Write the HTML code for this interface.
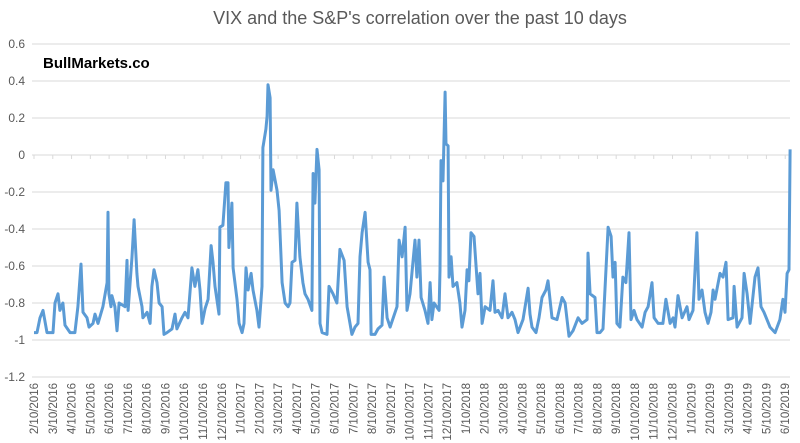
<!DOCTYPE html>
<html><head><meta charset="utf-8"><style>
body{margin:0;background:#fff}
svg{display:block;font-family:"Liberation Sans",sans-serif}
</style></head><body>
<svg id="chart" width="800" height="443" viewBox="0 0 800 443">
<text x="420" y="24" text-anchor="middle" font-size="18" fill="#595959">VIX and the S&amp;P's correlation over the past 10 days</text>
<g id="grid"></g>
<g id="yticks"></g>
<g id="xticks"></g>
<path id="line" fill="none" stroke="#5b9bd5" stroke-width="3" stroke-linejoin="round"></path>
<text x="43" y="68" font-size="15" font-weight="bold" fill="#000">BullMarkets.co</text>
</svg>
<script>
const yTicks=[0.6,0.4,0.2,0,-0.2,-0.4,-0.6,-0.8,-1,-1.2];
const yTickLabels=["0.6","0.4","0.2","0","-0.2","-0.4","-0.6","-0.8","-1","-1.2"];
const xTickLabels=["2/10/2016","3/10/2016","4/10/2016","5/10/2016","6/10/2016","7/10/2016","8/10/2016","9/10/2016","10/10/2016","11/10/2016","12/10/2016","1/10/2017","2/10/2017","3/10/2017","4/10/2017","5/10/2017","6/10/2017","7/10/2017","8/10/2017","9/10/2017","10/10/2017","11/10/2017","12/10/2017","1/10/2018","2/10/2018","3/10/2018","4/10/2018","5/10/2018","6/10/2018","7/10/2018","8/10/2018","9/10/2018","10/10/2018","11/10/2018","12/10/2018","1/10/2019","2/10/2019","3/10/2019","4/10/2019","5/10/2019","6/10/2019"];
// months elapsed since 2/10/2016
const months=[0,0.16,0.32,0.48,0.69,1.01,1.12,1.28,1.38,1.54,1.65,1.92,2.18,2.34,2.5,2.61,2.82,2.93,3.14,3.25,3.41,3.67,3.89,3.94,3.99,4.1,4.15,4.31,4.42,4.53,4.85,4.95,5.01,5.22,5.33,5.48,5.54,5.75,5.8,6.02,6.18,6.28,6.39,6.55,6.66,6.82,6.92,7.08,7.35,7.51,7.61,7.88,8.04,8.2,8.41,8.57,8.73,8.84,8.95,9.11,9.27,9.43,9.53,9.64,9.85,9.9,10.06,10.22,10.33,10.38,10.54,10.6,10.81,10.92,11.08,11.18,11.29,11.4,11.56,11.66,11.87,11.98,12.14,12.19,12.35,12.41,12.46,12.57,12.62,12.73,12.94,13.05,13.21,13.37,13.53,13.63,13.74,13.9,14,14.16,14.32,14.43,14.59,14.8,14.86,14.96,15.07,15.18,15.23,15.34,15.6,15.71,15.92,16.13,16.29,16.51,16.67,16.93,17.09,17.25,17.36,17.47,17.63,17.79,17.89,17.95,18.16,18.32,18.53,18.64,18.8,18.96,19.33,19.44,19.6,19.76,19.86,20.02,20.29,20.39,20.5,20.61,20.82,20.98,21.09,21.19,21.3,21.57,21.62,21.67,21.78,21.89,21.94,22.05,22.1,22.21,22.31,22.52,22.68,22.79,22.95,23.06,23.16,23.27,23.43,23.64,23.75,23.86,24.02,24.28,24.44,24.55,24.71,24.92,25.08,25.24,25.45,25.61,25.77,26.04,26.31,26.41,26.52,26.73,26.89,27.05,27.26,27.37,27.58,27.85,28.12,28.28,28.49,28.7,28.97,29.18,29.45,29.5,29.61,29.87,29.98,30.14,30.3,30.57,30.73,30.83,30.94,31.04,31.2,31.36,31.52,31.68,31.79,31.95,32.11,32.38,32.54,32.7,32.91,33.02,33.23,33.49,33.65,33.87,34.03,34.13,34.29,34.51,34.77,34.88,35.09,35.3,35.41,35.57,35.73,35.89,36.05,36.16,36.26,36.53,36.69,36.85,36.96,37.22,37.28,37.44,37.7,37.81,37.97,38.13,38.39,38.55,38.71,38.87,39.19,39.46,39.72,39.88,39.99,40.1,40.2,40.26];
const correlation=[-0.96,-0.96,-0.88,-0.84,-0.96,-0.96,-0.8,-0.75,-0.84,-0.8,-0.92,-0.96,-0.96,-0.82,-0.59,-0.85,-0.88,-0.93,-0.91,-0.86,-0.91,-0.82,-0.69,-0.31,-0.75,-0.82,-0.76,-0.82,-0.95,-0.8,-0.82,-0.57,-0.84,-0.55,-0.35,-0.64,-0.71,-0.82,-0.88,-0.85,-0.91,-0.71,-0.62,-0.69,-0.8,-0.82,-0.97,-0.96,-0.94,-0.86,-0.94,-0.88,-0.85,-0.88,-0.61,-0.71,-0.62,-0.73,-0.91,-0.83,-0.78,-0.49,-0.58,-0.71,-0.86,-0.39,-0.38,-0.15,-0.15,-0.5,-0.26,-0.61,-0.78,-0.91,-0.96,-0.91,-0.61,-0.73,-0.64,-0.73,-0.84,-0.93,-0.71,0.04,0.14,0.21,0.38,0.31,-0.19,-0.08,-0.19,-0.3,-0.69,-0.8,-0.82,-0.8,-0.58,-0.57,-0.26,-0.55,-0.69,-0.75,-0.78,-0.84,-0.1,-0.26,0.03,-0.08,-0.91,-0.96,-0.97,-0.71,-0.75,-0.8,-0.51,-0.57,-0.82,-0.97,-0.93,-0.91,-0.55,-0.42,-0.31,-0.58,-0.62,-0.97,-0.97,-0.94,-0.92,-0.66,-0.88,-0.93,-0.82,-0.46,-0.55,-0.39,-0.84,-0.75,-0.46,-0.66,-0.46,-0.77,-0.84,-0.91,-0.69,-0.89,-0.8,-0.84,-0.62,-0.03,-0.14,0.34,0.06,0.05,-0.66,-0.55,-0.71,-0.69,-0.8,-0.93,-0.84,-0.62,-0.68,-0.42,-0.44,-0.75,-0.64,-0.91,-0.82,-0.84,-0.68,-0.85,-0.84,-0.88,-0.75,-0.88,-0.85,-0.89,-0.96,-0.89,-0.72,-0.86,-0.93,-0.96,-0.88,-0.77,-0.73,-0.68,-0.88,-0.89,-0.77,-0.8,-0.98,-0.95,-0.88,-0.91,-0.89,-0.53,-0.75,-0.77,-0.96,-0.96,-0.94,-0.39,-0.44,-0.66,-0.58,-0.91,-0.93,-0.66,-0.69,-0.42,-0.89,-0.84,-0.89,-0.93,-0.85,-0.82,-0.69,-0.88,-0.91,-0.91,-0.78,-0.91,-0.88,-0.93,-0.76,-0.88,-0.82,-0.89,-0.84,-0.42,-0.78,-0.73,-0.85,-0.91,-0.85,-0.73,-0.78,-0.64,-0.66,-0.58,-0.89,-0.88,-0.71,-0.93,-0.88,-0.64,-0.75,-0.91,-0.66,-0.61,-0.82,-0.85,-0.93,-0.96,-0.89,-0.78,-0.85,-0.64,-0.62,0.03];

const NS="http://www.w3.org/2000/svg";
const X0=34,DX=18.78,XR=790;
const xs=m=>X0+m*DX;
const ys=v=>155-v*185;
const grid=document.getElementById('grid'),yt=document.getElementById('yticks'),xt=document.getElementById('xticks');
yTicks.forEach((v,i)=>{
  const l=document.createElementNS(NS,'line');
  
  
  l.setAttribute('x1',32);l.setAttribute('x2',XR);l.setAttribute('y1',ys(v));l.setAttribute('y2',ys(v));
  l.setAttribute('stroke','#d9d9d9');l.setAttribute('stroke-width','1');
  grid.appendChild(l);
  const t=document.createElementNS(NS,'text');
  
  
  t.setAttribute('x',25);t.setAttribute('y',ys(v)+4);t.setAttribute('text-anchor','end');
  t.setAttribute('font-size','12');t.setAttribute('fill','#595959');
  t.textContent=yTickLabels[i];yt.appendChild(t);
});
xTickLabels.forEach((s,i)=>{
  const x=xs(i);
  const tk=document.createElementNS(NS,'line');
  
  
  tk.setAttribute('x1',x);tk.setAttribute('x2',x);tk.setAttribute('y1',155);tk.setAttribute('y2',159);
  tk.setAttribute('stroke','#d9d9d9');grid.appendChild(tk);
  const t=document.createElementNS(NS,'text');
  
  
  t.setAttribute('transform','translate('+(x+4)+',383) rotate(-90)');
  t.setAttribute('text-anchor','end');t.setAttribute('font-size','11.5');t.setAttribute('fill','#595959');
  t.textContent=s;xt.appendChild(t);
});
let d='';
months.forEach((m,i)=>{d+=(i?'L':'M')+xs(m).toFixed(1)+','+ys(correlation[i]).toFixed(1);});
document.getElementById('line').setAttribute('d',d);
</script>
</body></html>
